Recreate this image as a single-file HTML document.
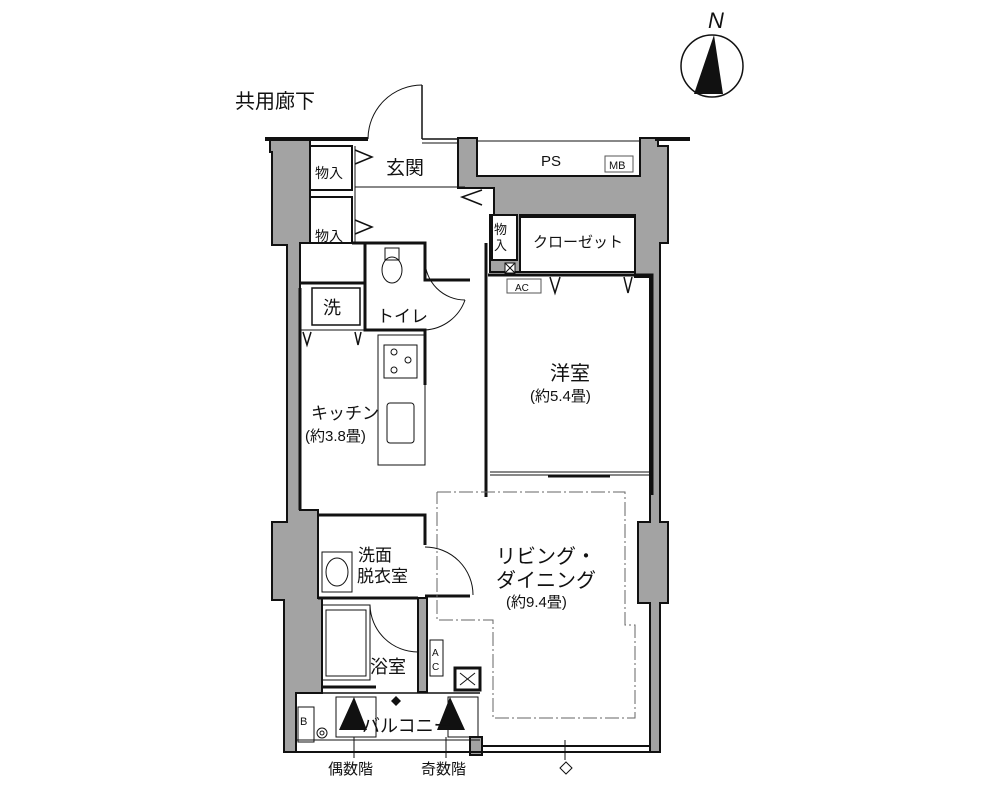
<!DOCTYPE html>
<html><head><meta charset="utf-8"><style>
html,body{margin:0;padding:0;background:#fff;}
svg{display:block;}
text{font-family:"Liberation Sans","Noto Sans CJK JP",sans-serif;fill:#111;}
</style></head><body>
<svg width="999" height="801" viewBox="0 0 999 801" xmlns="http://www.w3.org/2000/svg">
<rect width="999" height="801" fill="#fff"/>
<!-- compass -->
<text x="708" y="28" font-size="22" font-style="italic">N</text>
<circle cx="712" cy="66" r="31" fill="none" stroke="#111" stroke-width="1.5"/>
<polygon points="714,35 694,94 723,94" fill="#111"/>
<text x="235" y="108" font-size="20">共用廊下</text>

<!-- gray walls -->
<g fill="#a3a3a3" stroke="#111" stroke-width="2">
<polygon points="270,140 310,140 310,243 300,243 300,510 318,510 318,598 322,598 322,693 296,693 296,752 284,752 284,600 272,600 272,522 287,522 287,245 272,245 272,152 270,152"/>
<polygon points="458,138 477,138 477,176 640,176 640,138 658,138 658,146 668,146 668,243 660,243 660,522 668,522 668,603 660,603 660,752 650,752 650,603 638,603 638,522 650,522 650,277 635,277 635,215 520,215 520,272 490,272 490,215 494,215 494,188 458,188"/>
<polygon points="418,598 427,598 427,692 418,692"/>
<polygon points="470,737 482,737 482,755 470,755"/>
</g>
<!-- top walls -->
<line x1="265" y1="139" x2="368" y2="139" stroke="#111" stroke-width="4"/>
<line x1="422" y1="139" x2="458" y2="139" stroke="#111" stroke-width="1.5"/>
<line x1="422" y1="143" x2="458" y2="143" stroke="#111" stroke-width="1"/>
<line x1="478" y1="141" x2="640" y2="141" stroke="#111" stroke-width="1"/>
<line x1="655" y1="139" x2="690" y2="139" stroke="#111" stroke-width="4"/>
<!-- entry door -->
<line x1="422" y1="85" x2="422" y2="139" stroke="#111" stroke-width="1.5"/>
<path d="M368,139 A54,54 0 0 1 422,85" fill="none" stroke="#111" stroke-width="1"/>

<!-- PS -->
<text x="541" y="166" font-size="15">PS</text>
<rect x="605" y="156" width="28" height="16" fill="#fff" stroke="#555"/>
<text x="609" y="169" font-size="11">MB</text>

<!-- white closet boxes -->
<rect x="492" y="215" width="25" height="45" fill="#fff" stroke="#111" stroke-width="2"/>
<rect x="520" y="217" width="115" height="55" fill="#fff" stroke="#111" stroke-width="2"/>

<g fill="none" stroke="#111" stroke-width="2">
<!-- storage boxes -->
<rect x="310" y="146" width="42" height="44"/>
<rect x="310" y="197" width="42" height="46"/>
<line x1="300" y1="283" x2="365" y2="283" stroke-width="3"/>
<!-- entry -->
<line x1="355" y1="187" x2="465" y2="187" stroke-width="1"/>
<line x1="355" y1="146" x2="355" y2="243" stroke-width="1"/>
<!-- toilet -->
<polyline points="352,243 425,243 425,280 470,280" stroke-width="3"/>
<polyline points="365,243 365,330 425,330 425,385" stroke-width="3"/>
<line x1="486" y1="243" x2="486" y2="497" stroke-width="3"/>
<!-- 洗 -->
<rect x="312" y="288" width="48" height="37" stroke-width="1.5"/>
<line x1="300" y1="288" x2="300" y2="510" stroke-width="3"/>
<line x1="300" y1="330" x2="365" y2="330" stroke-width="1"/>
<!-- western room -->
<polyline points="488,275 652,275 652,495" stroke-width="3"/>
<line x1="490" y1="475" x2="650" y2="475" stroke-width="1"/>
<line x1="490" y1="472" x2="650" y2="472" stroke-width="1"/>
<line x1="548" y1="476" x2="610" y2="476" stroke-width="3"/>
<!-- kitchen counter -->
<rect x="378" y="335" width="47" height="130" stroke-width="1"/>
<rect x="384" y="345" width="33" height="33" stroke-width="1"/>
<rect x="387" y="403" width="27" height="40" rx="3" stroke-width="1"/>
<!-- wash room -->
<polyline points="318,515 425,515 425,545" stroke-width="3"/>
<polyline points="425,596 470,596" stroke-width="3"/>
<line x1="318" y1="598" x2="418" y2="598" stroke-width="3"/>
<rect x="322" y="552" width="30" height="40" stroke-width="1"/>
<ellipse cx="337" cy="572" rx="11" ry="14" stroke-width="1"/>
<!-- bath -->
<rect x="322" y="605" width="48" height="75" stroke-width="1"/>
<rect x="326" y="610" width="40" height="66" stroke-width="1"/>
<line x1="322" y1="687" x2="376" y2="687" stroke-width="3"/>
<!-- balcony -->
<line x1="296" y1="693" x2="480" y2="693" stroke-width="1.5"/>
<line x1="296" y1="740" x2="480" y2="740" stroke-width="1"/>
<line x1="296" y1="752" x2="650" y2="752" stroke-width="2"/>
<line x1="482" y1="746" x2="650" y2="746" stroke-width="2"/>
<rect x="298" y="707" width="16" height="35" stroke-width="1"/>
<circle cx="322" cy="733" r="5" stroke-width="1"/>
<circle cx="322" cy="733" r="2" stroke-width="1"/>
<rect x="336" y="697" width="40" height="40" stroke-width="1"/>
<rect x="448" y="697" width="30" height="40" stroke-width="1"/>
<rect x="430" y="640" width="13" height="36" stroke-width="1"/>
<rect x="455" y="668" width="25" height="22" stroke-width="3"/>
<line x1="460" y1="673" x2="475" y2="685" stroke-width="1"/>
<line x1="475" y1="673" x2="460" y2="685" stroke-width="1"/>
<!-- leader lines -->
<line x1="354" y1="737" x2="354" y2="758" stroke-width="1"/>
<line x1="446" y1="737" x2="446" y2="758" stroke-width="1"/>
<line x1="565" y1="740" x2="565" y2="760" stroke-width="1"/>
<!-- door arcs -->
<path d="M425,260 A40,40 0 0 0 465,300" stroke-width="1"/>
<path d="M425,330 A45,45 0 0 0 465,300" stroke-width="1"/>
<path d="M425,547 A48,48 0 0 1 473,595" stroke-width="1"/>
<path d="M370,605 A48,48 0 0 0 418,652" stroke-width="1"/>
<!-- small V marks -->
<polyline points="303,332 307,345 311,332" stroke-width="1.5"/>
<polyline points="355,332 358,345 361,332" stroke-width="1.5"/>
<polyline points="550,277 555,293 560,277" stroke-width="1.5"/>
<polyline points="624,277 628,293 632,277" stroke-width="1.5"/>
<polyline points="355,150 372,157 355,164" stroke-width="1.5"/>
<polyline points="355,220 372,227 355,234" stroke-width="1.5"/>
<polyline points="482,190 462,197 482,205" stroke-width="1.5"/>
<!-- LD dashed -->
<polyline points="437,492 625,492 625,625 635,625 635,718 493,718 493,620 437,620 437,492" stroke="#666" stroke-width="1" stroke-dasharray="14,3,2,3"/>
</g>
<rect x="505" y="263" width="10" height="10" fill="#fff" stroke="#111"/>
<path d="M505,263 L515,273 M515,263 L505,273" stroke="#111"/>
<rect x="507" y="279" width="34" height="14" fill="#fff" stroke="#555"/>
<text x="515" y="291" font-size="10">AC</text>
<circle cx="394" cy="352" r="3" fill="none" stroke="#111"/>
<circle cx="408" cy="360" r="3" fill="none" stroke="#111"/>
<circle cx="394" cy="370" r="3" fill="none" stroke="#111"/>
<ellipse cx="392" cy="270" rx="10" ry="13" fill="none" stroke="#111"/>
<rect x="385" y="248" width="14" height="12" fill="none" stroke="#111"/>
<polygon points="339,730 354,697 367,730" fill="#111"/>
<polygon points="437,730 450,697 465,730" fill="#111"/>
<polygon points="391,701 396,696 401,701 396,706" fill="#111"/>
<polygon points="560,768 566,762 572,768 566,774" fill="#fff" stroke="#111"/>

<!-- labels -->
<text x="315" y="178" font-size="14">物入</text>
<text x="315" y="241" font-size="14">物入</text>
<text x="386" y="174" font-size="19">玄関</text>
<text x="494" y="234" font-size="13">物</text>
<text x="494" y="250" font-size="13">入</text>
<text x="533" y="247" font-size="15">クローゼット</text>
<text x="323" y="314" font-size="18">洗</text>
<text x="377" y="322" font-size="17">トイレ</text>
<text x="550" y="380" font-size="20">洋室</text>
<text x="530" y="401" font-size="15">(約5.4畳)</text>
<text x="311" y="419" font-size="17">キッチン</text>
<text x="305" y="441" font-size="15">(約3.8畳)</text>
<text x="358" y="561" font-size="17">洗面</text>
<text x="357" y="582" font-size="17">脱衣室</text>
<text x="496" y="563" font-size="20">リビング・</text>
<text x="496" y="587" font-size="20">ダイニング</text>
<text x="506" y="607" font-size="15">(約9.4畳)</text>
<text x="370" y="673" font-size="18">浴室</text>
<text x="432" y="656" font-size="10">A</text>
<text x="432" y="670" font-size="10">C</text>
<text x="300" y="725" font-size="11">B</text>
<text x="362" y="732" font-size="18">バルコニー</text>
<text x="328" y="774" font-size="15">偶数階</text>
<text x="421" y="774" font-size="15">奇数階</text>
</svg>
</body></html>
